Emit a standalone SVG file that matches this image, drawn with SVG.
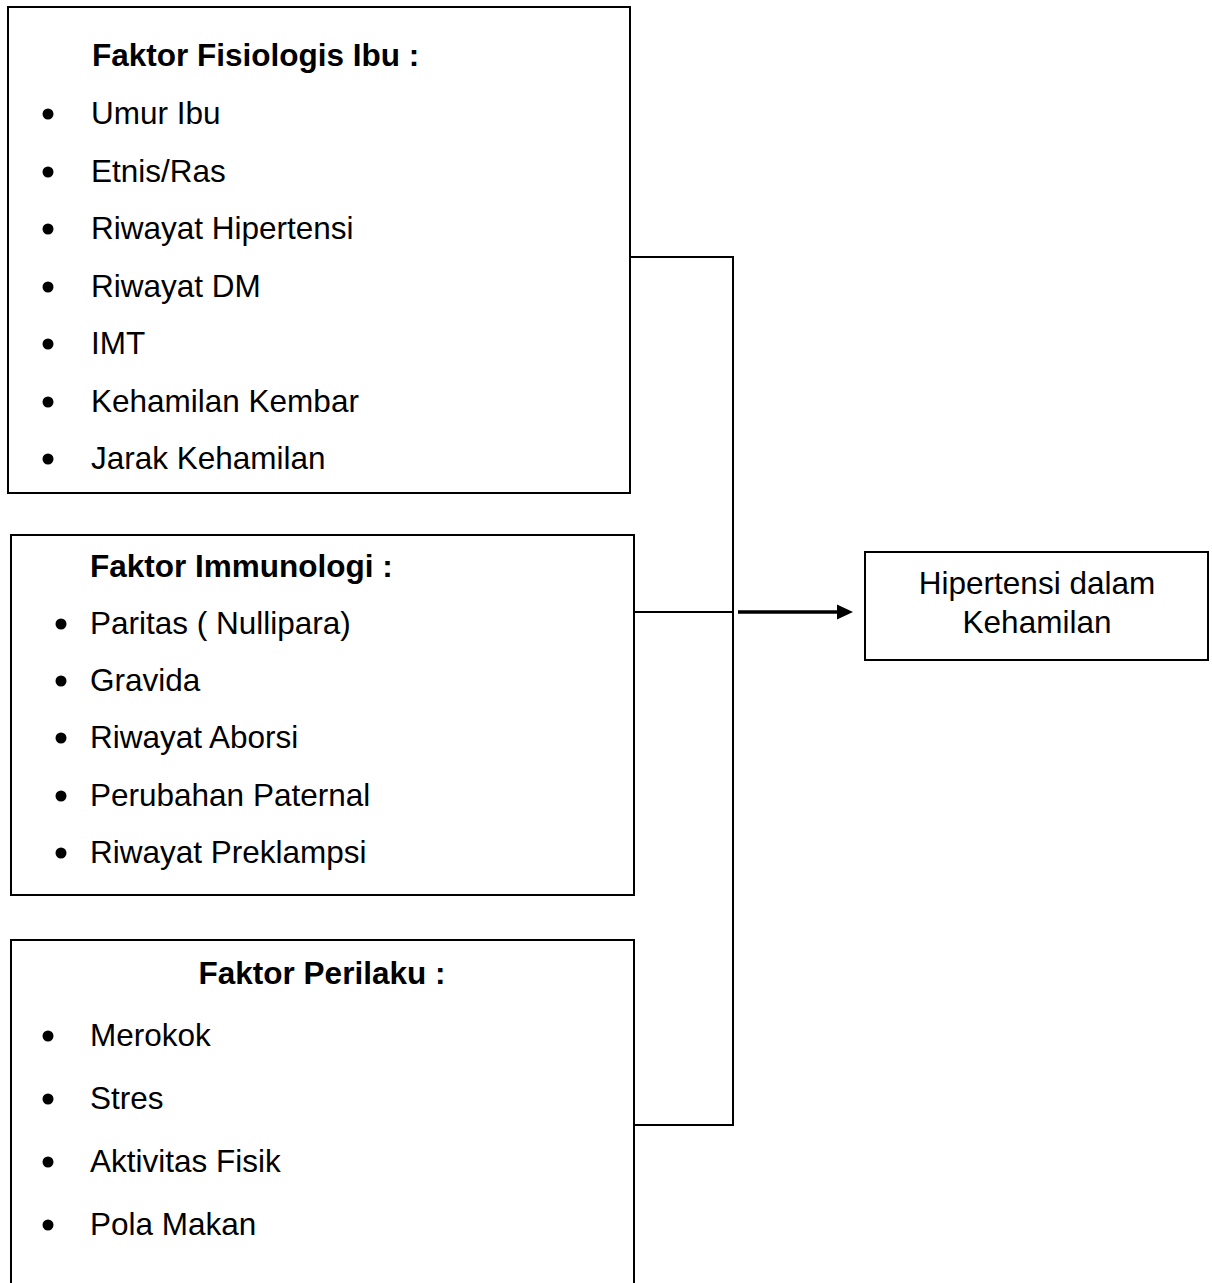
<svg xmlns="http://www.w3.org/2000/svg" width="1212" height="1283" viewBox="0 0 1212 1283">
<style>
.box{fill:#fff;stroke:#000;stroke-width:2}
.t{font-family:"Liberation Sans",Arial,sans-serif;font-size:31.5px;fill:#000}
.b{font-weight:bold}
.c{stroke:#000;stroke-width:2;fill:none}
</style>
<defs>
<marker id="ah" markerWidth="16" markerHeight="16" refX="4" refY="8" orient="auto" markerUnits="userSpaceOnUse">
<path d="M0,0.5 L16,8 L0,15.5 z" fill="#000"/>
</marker>
</defs>
<rect width="1212" height="1283" fill="#fff"/>
<g id="connectors">
<path class="c" d="M630,257 H733 V1125 H634"/>
<path class="c" d="M634,612 H733"/>
<path d="M738,612 H841" stroke="#000" stroke-width="3.5" fill="none" marker-end="url(#ah)"/>
</g>
<g id="node-fisiologis">
<rect class="box" x="8" y="7" width="622" height="486"/>
<text class="t b" x="92" y="66">Faktor Fisiologis Ibu :</text>
<g fill="#000"><circle cx="48" cy="114" r="5.5"/><circle cx="48" cy="172" r="5.5"/><circle cx="48" cy="229" r="5.5"/><circle cx="48" cy="287" r="5.5"/><circle cx="48" cy="344" r="5.5"/><circle cx="48" cy="402" r="5.5"/><circle cx="48" cy="459" r="5.5"/></g>
<text class="t" x="91" y="124">Umur Ibu</text>
<text class="t" x="91" y="182">Etnis/Ras</text>
<text class="t" x="91" y="239">Riwayat Hipertensi</text>
<text class="t" x="91" y="297">Riwayat DM</text>
<text class="t" x="91" y="354">IMT</text>
<text class="t" x="91" y="412">Kehamilan Kembar</text>
<text class="t" x="91" y="469">Jarak Kehamilan</text>
</g>
<g id="node-immunologi">
<rect class="box" x="11" y="535" width="623" height="360"/>
<text class="t b" x="90" y="577">Faktor Immunologi :</text>
<g fill="#000"><circle cx="61" cy="624" r="5.5"/><circle cx="61" cy="681" r="5.5"/><circle cx="61" cy="738" r="5.5"/><circle cx="61" cy="796" r="5.5"/><circle cx="61" cy="853" r="5.5"/></g>
<text class="t" x="90" y="634">Paritas ( Nullipara)</text>
<text class="t" x="90" y="691">Gravida</text>
<text class="t" x="90" y="748">Riwayat Aborsi</text>
<text class="t" x="90" y="806">Perubahan Paternal</text>
<text class="t" x="90" y="863">Riwayat Preklampsi</text>
</g>
<g id="node-perilaku">
<path class="box" d="M11,1290 V940 H634 V1290"/>
<text class="t b" x="322" y="984" text-anchor="middle">Faktor Perilaku :</text>
<g fill="#000"><circle cx="48" cy="1036" r="5.5"/><circle cx="48" cy="1099" r="5.5"/><circle cx="48" cy="1162" r="5.5"/><circle cx="48" cy="1225" r="5.5"/></g>
<text class="t" x="90" y="1046">Merokok</text>
<text class="t" x="90" y="1109">Stres</text>
<text class="t" x="90" y="1172">Aktivitas Fisik</text>
<text class="t" x="90" y="1235">Pola Makan</text>
</g>
<g id="node-hipertensi">
<rect class="box" x="865" y="552" width="343" height="108"/>
<text class="t" x="1037" y="594" text-anchor="middle">Hipertensi dalam</text>
<text class="t" x="1037" y="633" text-anchor="middle">Kehamilan</text>
</g>
</svg>
